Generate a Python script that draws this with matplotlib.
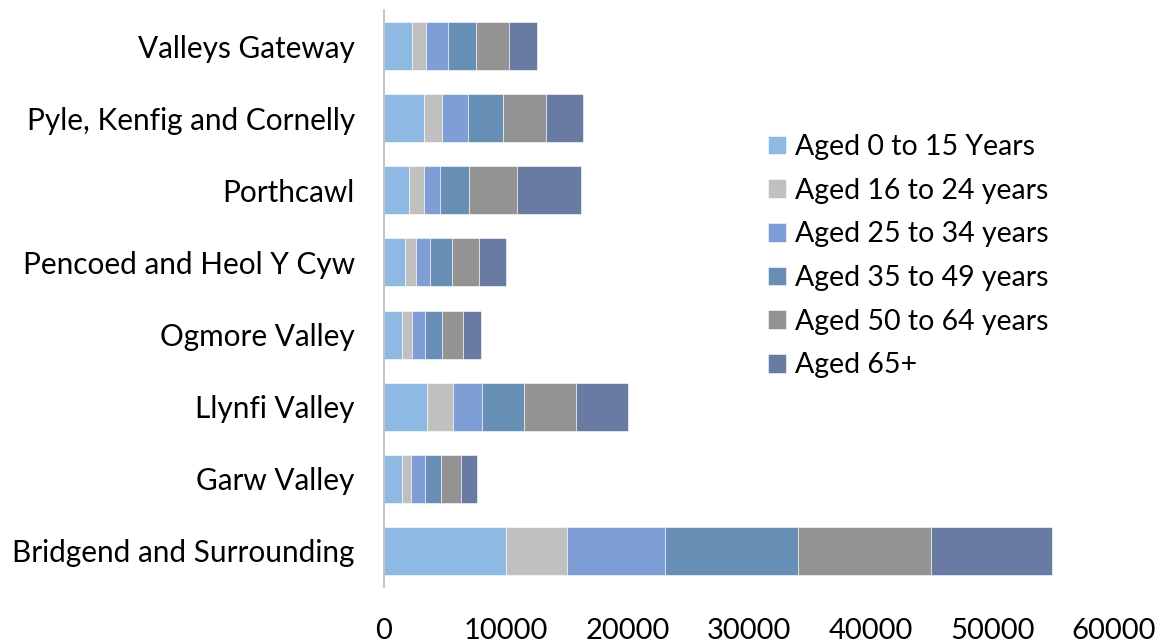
import matplotlib
matplotlib.use("Agg")
import matplotlib.pyplot as plt
import numpy as np

categories = ["Bridgend and Surrounding", "Garw Valley", "Llynfi Valley", "Ogmore Valley",
              "Pencoed and Heol Y Cyw", "Porthcawl", "Pyle, Kenfig and Cornelly", "Valleys Gateway"]
series_names = ["Aged 0 to 15 Years", "Aged 16 to 24 years", "Aged 25 to 34 years",
                "Aged 35 to 49 years", "Aged 50 to 64 years", "Aged 65+"]
aged_0_15 = [10000, 1470, 3560, 1480, 1725, 2080, 3290, 2300]
aged_16_24 = [5080, 790, 2110, 820, 930, 1230, 1500, 1150]
aged_25_34 = [8010, 1125, 2360, 1045, 1125, 1265, 2090, 1810]
aged_35_49 = [10930, 1290, 3475, 1445, 1810, 2430, 2925, 2325]
aged_50_64 = [10970, 1660, 4250, 1675, 2195, 3895, 3485, 2660]
aged_65_plus = [9940, 1330, 4320, 1530, 2270, 5260, 3065, 2300]
xticks = [0, 10000, 20000, 30000, 40000, 50000, 60000]

colors = ["#8EB9E3", "#C0C0C0", "#7F9ED6", "#678EB4", "#939393", "#697BA3"]

plt.rcParams['font.family'] = ['Lato', 'DejaVu Sans']
fs_cat = 21.4
fs_tick = 21
fs_leg = 20.5

fig = plt.figure(figsize=(11.65, 6.42), dpi=100)
ax = fig.add_axes([384/1165, 1 - 587/642, (1114-384)/1165, (587-10)/642])

series = [aged_0_15, aged_16_24, aged_25_34, aged_35_49, aged_50_64, aged_65_plus]
y = np.arange(len(categories))
left = np.zeros(len(categories))
for name, vals, c in zip(series_names, series, colors):
    vals = np.array(vals, dtype=float)
    ax.barh(y, vals, left=left, height=0.667, color=c, label=name,
            edgecolor="white", linewidth=0.4)
    left += vals

ax.set_xlim(0, 60000)
ax.set_ylim(-0.5, len(categories) - 0.5)
ax.set_xticks(xticks)
ax.set_xticklabels([str(t) for t in xticks])
ax.set_yticks(y)
ax.set_yticklabels(categories)
ax.tick_params(axis='both', length=0, colors="black")
ax.tick_params(axis='x', pad=22, labelsize=fs_tick)
ax.tick_params(axis='y', pad=21, labelsize=fs_cat)
for s in ["top", "right", "bottom"]:
    ax.spines[s].set_visible(False)
ax.spines["left"].set_color("#BFBFBF")
ax.spines["left"].set_linewidth(1.3)

handles, labels = ax.get_legend_handles_labels()
leg = fig.legend(handles, labels, loc="upper left",
                 bbox_to_anchor=(768/1165, 1 - 134/642),
                 frameon=False, fontsize=fs_leg, handlelength=0.63, handleheight=0.63,
                 handletextpad=0.32, labelspacing=0.62, borderaxespad=0, borderpad=0)

fig.savefig("out.png", dpi=100)
